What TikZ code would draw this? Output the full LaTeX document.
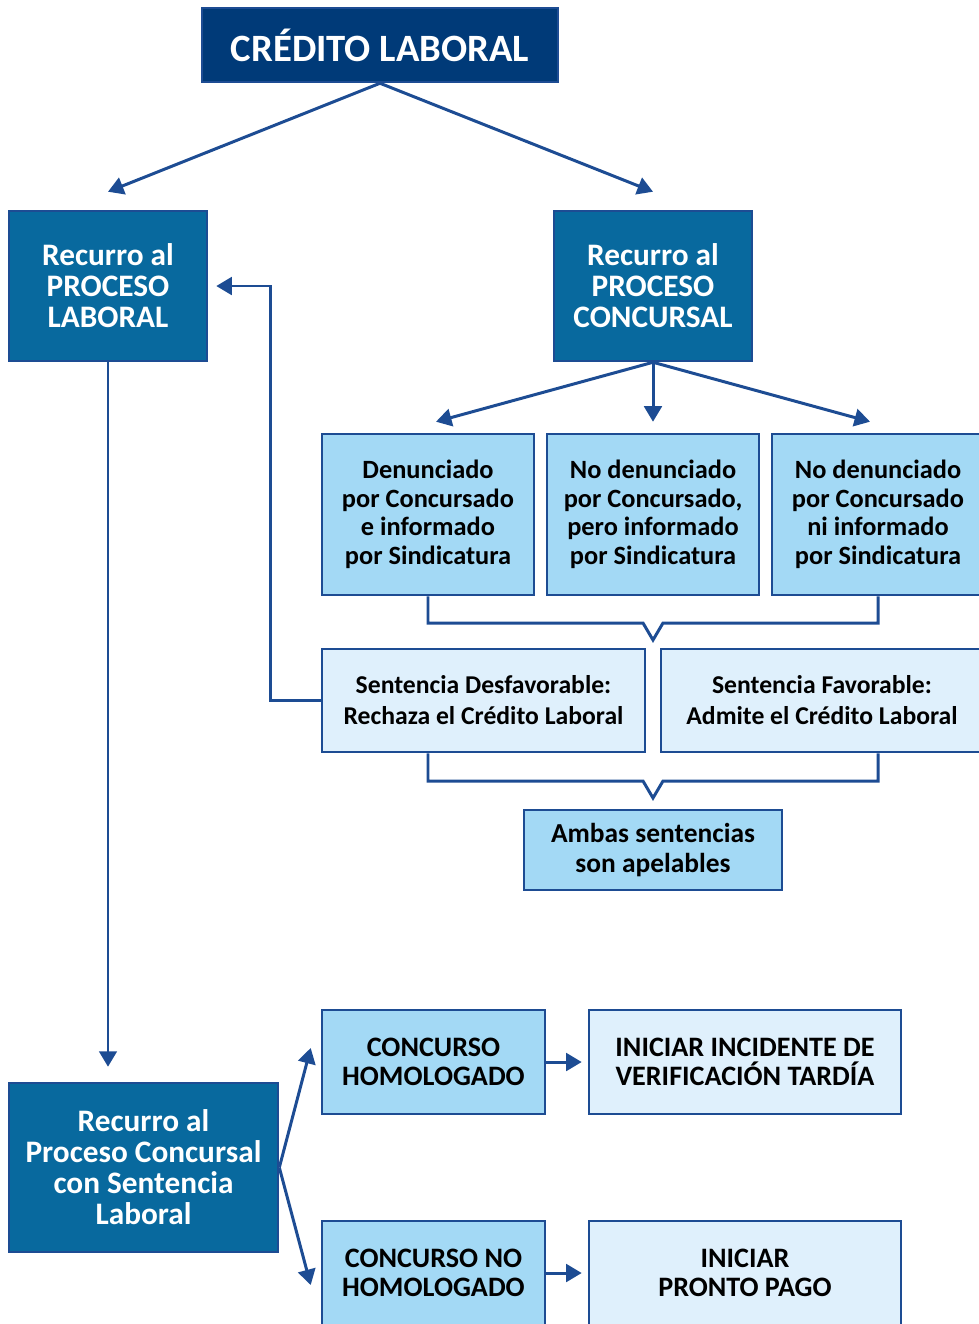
\documentclass[tikz,border=0pt]{standalone}
\usepackage{fontspec}
\setmainfont{Carlito}
\usetikzlibrary{arrows.meta,calc}

\definecolor{marino}{HTML}{003A78}
\definecolor{oscuro}{HTML}{08699E}
\definecolor{celeste}{HTML}{A3D9F5}
\definecolor{palido}{HTML}{DFF0FC}
\definecolor{borde}{HTML}{1D4C93}

\tikzset{
  caja/.style={draw=borde, line width=0.7pt, align=center, inner sep=0pt},
  oscura/.style={caja, fill=oscuro, text=white, font=\bfseries\fontsize{8.9}{8.8}\selectfont},
  media/.style={caja, fill=celeste, font=\bfseries\fontsize{7.5}{8.1}\selectfont},
  clara/.style={caja, fill=palido, font=\bfseries\fontsize{7.3}{8.8}\selectfont},
  mayus/.style={font=\bfseries\fontsize{8}{8.2}\selectfont},
  linea/.style={draw=borde, line width=0.85pt},
  flecha/.style={linea, -{Triangle[width=5pt,length=4.4pt]}}
}

\begin{document}
\begin{tikzpicture}[x=0.01cm, y=-0.01cm]
  \useasboundingbox (0,0) rectangle (978,1324);

  % Las cajas de arriba
  \node[caja, fill=marino, text=white, font=\bfseries\fontsize{11}{13}\selectfont,
        minimum width=3.56cm, minimum height=0.74cm] (credito) at (380,45) {CRÉDITO LABORAL};
  \node[oscura, minimum width=1.98cm, minimum height=1.5cm] (laboral) at (108,286)
    {Recurro al\\PROCESO\\LABORAL};
  \node[oscura, minimum width=1.98cm, minimum height=1.5cm] (concursal) at (653,286)
    {Recurro al\\PROCESO\\CONCURSAL};

  % Los tres casos
  \node[media, minimum width=2.12cm, minimum height=1.61cm] (den1) at (428,514.5)
    {Denunciado\\por Concursado\\e informado\\por Sindicatura};
  \node[media, minimum width=2.12cm, minimum height=1.61cm] (den2) at (653,514.5)
    {No denunciado\\por Concursado,\\pero informado\\por Sindicatura};
  \node[media, minimum width=2.12cm, minimum height=1.61cm] (den3) at (878,514.5)
    {No denunciado\\por Concursado\\ni informado\\por Sindicatura};

  % Las sentencias
  \node[clara, minimum width=3.23cm, minimum height=1.03cm] (desf) at (483.5,700.5)
    {Sentencia Desfavorable:\\Rechaza el Crédito Laboral};
  \node[clara, minimum width=3.22cm, minimum height=1.03cm] (fav) at (822,700.5)
    {Sentencia Favorable:\\Admite el Crédito Laboral};
  \node[media, font=\bfseries\fontsize{7.8}{8.8}\selectfont,
        minimum width=2.58cm, minimum height=0.8cm] (ambas) at (653,850)
    {Ambas sentencias\\son apelables};

  % Las cajas de abajo
  \node[oscura, minimum width=2.69cm, minimum height=1.69cm] (conlab) at (143.5,1167.5)
    {Recurro al\\Proceso Concursal\\con Sentencia\\Laboral};
  \node[media, mayus, minimum width=2.23cm, minimum height=1.04cm] (homol) at (433.5,1062)
    {CONCURSO\\HOMOLOGADO};
  \node[media, mayus, minimum width=2.23cm, minimum height=1.04cm] (nohomol) at (433.5,1273)
    {CONCURSO NO\\HOMOLOGADO};
  \node[clara, mayus, minimum width=3.12cm, minimum height=1.04cm] (verif) at (745,1062)
    {INICIAR INCIDENTE DE\\VERIFICACIÓN TARDÍA};
  \node[clara, mayus, minimum width=3.12cm, minimum height=1.04cm] (pronto) at (745,1273)
    {INICIAR\\PRONTO PAGO};

  % Las flechas
  \draw[flecha] (credito.south) -- ([yshift=1.8mm]laboral.north);
  \draw[flecha] (credito.south) -- ([yshift=1.8mm]concursal.north);
  \draw[flecha] (concursal.south) -- ([xshift=0.8mm, yshift=1.1mm]den1.north);
  \draw[flecha] (concursal.south) -- ([yshift=1.1mm]den2.north);
  \draw[flecha] (concursal.south) -- ([xshift=-0.8mm, yshift=1.1mm]den3.north);
  \draw[flecha] (desf.west) -- ++(-50,0) |- ([xshift=0.8mm]laboral.east);
  \coordinate (bajo) at (laboral.south |- conlab.north);
  \draw[flecha] (laboral.south) -- ([yshift=1.5mm]bajo);
  \draw[flecha] (conlab.east) -- ($(homol.west)+(-10,-14)$);
  \draw[flecha] (conlab.east) -- ($(nohomol.west)+(-10,12)$);
  \draw[flecha] (homol.east) -- ([xshift=-0.6mm]verif.west);
  \draw[flecha] (nohomol.east) -- ([xshift=-0.6mm]pronto.west);

  % Las llaves
  \coordinate (v1) at (653,640);
  \coordinate (v2) at (653,798);
  \draw[linea] (den1.south) |- (643,623) -- (v1) -- (663,623) -| (den3.south);
  \draw[linea] (desf.south -| den1.south) |- (643,781) -- (v2) -- (663,781) -| (fav.south -| den3.south);
\end{tikzpicture}
\end{document}
